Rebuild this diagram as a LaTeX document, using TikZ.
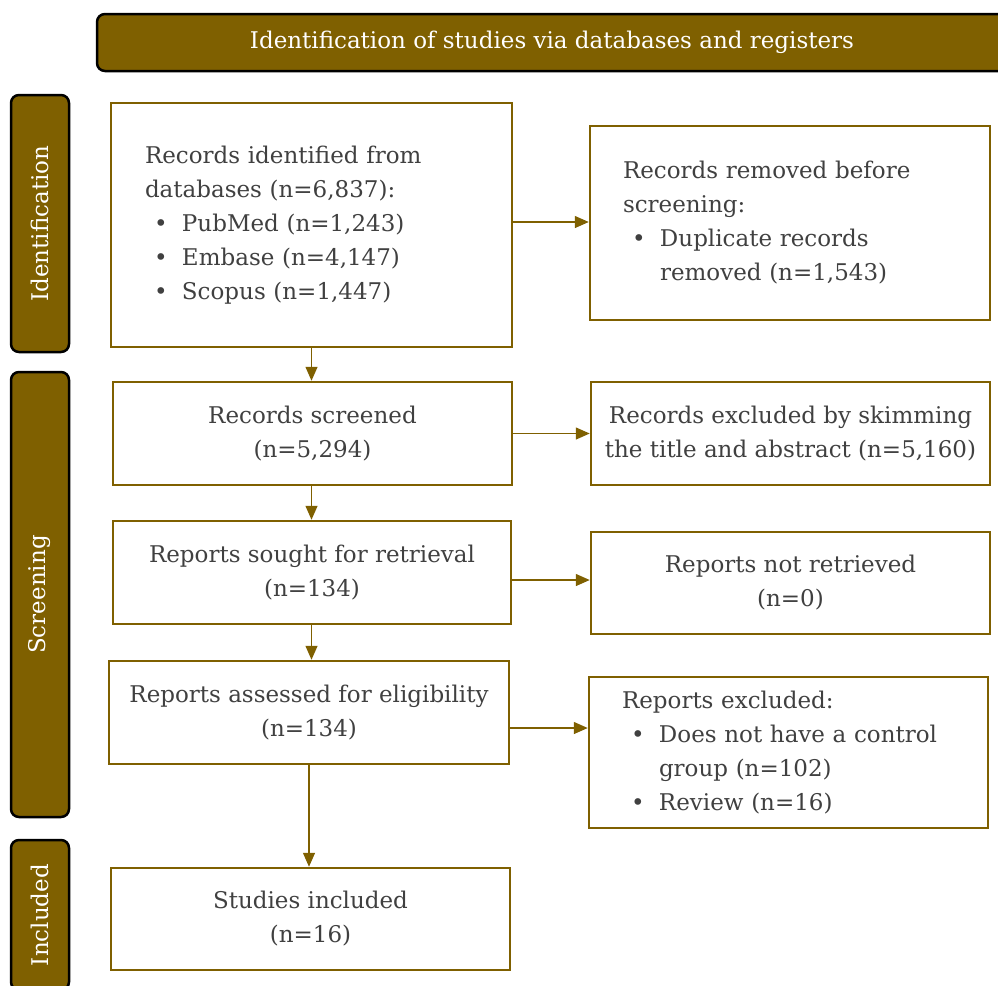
\documentclass[tikz,border=0pt]{standalone}
\usepackage{fontspec}
\setmainfont{DejaVu Serif}
\usetikzlibrary{arrows.meta}
\definecolor{gold}{HTML}{7F6000}
\definecolor{txt}{HTML}{404040}
\newcommand\bul[1]{\hspace*{9pt}\makebox[28pt][l]{\textbullet}#1}
\newcommand\cont[1]{\hspace*{37pt}#1}
\begin{document}
\begin{tikzpicture}[x=1pt,y=-1pt,
 box/.style={draw=gold, line width=2.5pt, fill=white, text=txt, font=\fontsize{23}{34}\selectfont, inner sep=0pt},
 cbox/.style={box, align=center},
 lbox/.style={box, align=left, inner xsep=34pt},
 band/.style={draw=black, line width=2.5pt, fill=gold, rounded corners=8pt, text=white, font=\fontsize{23}{34}\selectfont, inner sep=0pt},
 arr/.style={draw=gold, line width=1.4pt, -{Triangle[length=14pt,width=12pt]}}]
\useasboundingbox (0,0) rectangle (998,985);

% header and side bands
\node[band, minimum width=910pt, minimum height=57pt] (hd) at (552,42.5) {Identification of studies via databases and registers};
\node[band, minimum width=257pt, minimum height=58pt, rotate=90] (sid) at (40,223.5) {Identification};
\node[band, minimum width=445pt, minimum height=58pt, rotate=90] (ssc) at (40,594.5) {Screening};
\node[band, minimum width=150pt, minimum height=58pt, rotate=90] (sin) at (40,915) {Included};

% left column
\node[lbox, text width=333pt, minimum height=244pt] (b1) at (311.5,225) {Records identified from\\databases (n=6,837):\\\bul{PubMed (n=1,243)}\\\bul{Embase (n=4,147)}\\\bul{Scopus (n=1,447)}};
\node[cbox, minimum width=399pt, minimum height=103pt] (b2) at (312.5,433.5) {Records screened\\(n=5,294)};
\node[cbox, minimum width=398pt, minimum height=103pt] (b3) at (312,572.5) {Reports sought for retrieval\\(n=134)};
\node[cbox, minimum width=400pt, minimum height=103pt] (b4) at (309,712.5) {Reports assessed for eligibility\\(n=134)};
\node[cbox, minimum width=399pt, minimum height=102pt] (b5) at (310.5,919) {Studies included\\(n=16)};

% right column
\node[lbox, inner xsep=33pt, text width=334pt, minimum height=194pt] (r1) at (790,223) {Records removed before\\screening:\\\bul{Duplicate records}\\\cont{removed (n=1,543)}};
\node[cbox, minimum width=399pt, minimum height=103pt] (r2) at (790.5,433.5) {Records excluded by skimming\\the title and abstract (n=5,160)};
\node[cbox, minimum width=399pt, minimum height=102pt] (r3) at (790.5,583) {Reports not retrieved\\(n=0)};
\node[lbox, inner xsep=33pt, text width=333pt, minimum height=151pt] (r4) at (788.5,752.5) {Reports excluded:\\\bul{Does not have a control}\\\cont{group (n=102)}\\\bul{Review (n=16)}};

% connectors
\draw[arr] (b1.south) -- (b1.south |- b2.north);
\draw[arr] (b2.south -| b1.south) -- (b1.south |- b3.north);
\draw[arr] (b3.south -| b1.south) -- (b1.south |- b4.north);
\draw[arr] (b4.south) -- (b4.south |- b5.north);
\draw[arr] ([yshift=3pt]b1.east) coordinate (t1) -- (t1 -| r1.west);
\draw[arr] (b2.east) -- (r2.west);
\draw[arr] ([yshift=-7.5pt]b3.east) coordinate (t3) -- (t3 -| r3.west);
\draw[arr] ([yshift=-15.5pt]b4.east) coordinate (t4) -- (t4 -| r4.west);
\end{tikzpicture}
\end{document}
